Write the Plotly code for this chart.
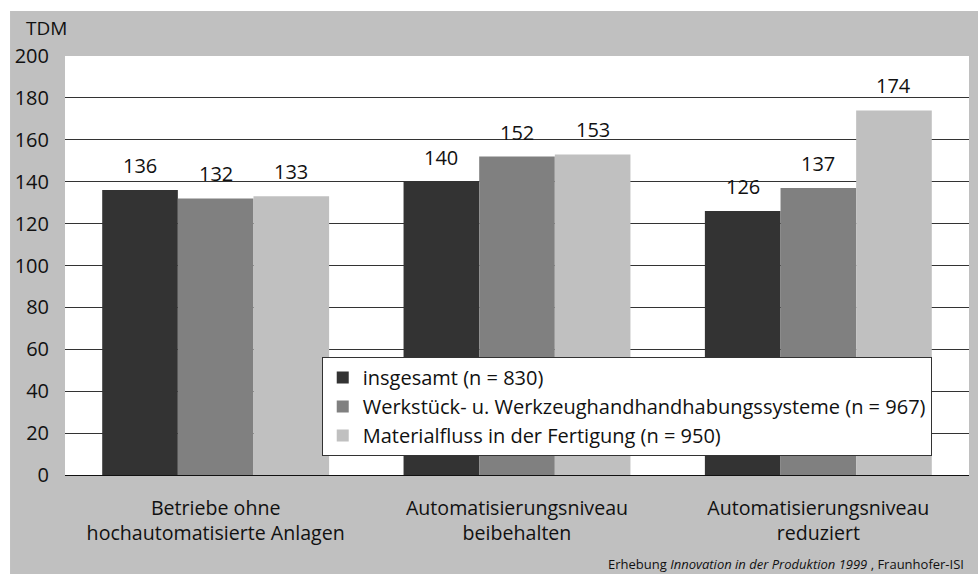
import plotly.graph_objects as go

categories = ["Betriebe ohne<br>hochautomatisierte Anlagen",
              "Automatisierungsniveau<br>beibehalten",
              "Automatisierungsniveau<br>reduziert"]
series_names = ["insgesamt (n = 830)",
                "Werkstück- u. Werkzeughandhandhabungssysteme (n = 967)",
                "Materialfluss in der Fertigung (n = 950)"]
values_insgesamt = [136, 140, 126]
values_werkstueck = [132, 152, 137]
values_material = [133, 153, 174]
y_ticks = [0, 20, 40, 60, 80, 100, 120, 140, 160, 180, 200]

colors = ["#333333", "#808080", "#c0c0c0"]
FONT = "Open Sans"
BARGAP = 0.247

fig = go.Figure()
all_vals = [values_insgesamt, values_werkstueck, values_material]
for i, (name, vals) in enumerate(zip(series_names, all_vals)):
    fig.add_trace(go.Bar(
        x=categories, y=vals, name=name, marker=dict(color=colors[i], line=dict(width=0)),
        legendgroup=f"g{i}", hoverinfo="skip",
    ))

bar_w = (1 - BARGAP) / 3
annotations = []
for i, vals in enumerate(all_vals):
    for j, v in enumerate(vals):
        annotations.append(dict(
            x=j + (i - 1) * bar_w, y=v, xref="x", yref="y", text=str(v),
            showarrow=False, yanchor="bottom", yshift=9,
            font=dict(family=FONT, size=20, color="#111111"),
        ))

annotations.append(dict(x=0, y=1, xref="paper", yref="paper", text="TDM",
                        showarrow=False, xanchor="right", yanchor="bottom",
                        xshift=4, yshift=13,
                        font=dict(family=FONT, size=19, color="#111111")))
annotations.append(dict(x=1, y=0, xref="paper", yref="paper",
                        text="Erhebung <i>Innovation in der Produktion 1999</i> , Fraunhofer-ISI",
                        showarrow=False, xanchor="right", yanchor="middle",
                        xshift=-3, yshift=-89,
                        font=dict(family=FONT, size=13, color="#111111")))

shapes = [
    dict(type="rect", xref="paper", yref="paper", x0=-0.0608, x1=1.05, y0=-0.5, y1=1.1074,
         fillcolor="#c0c0c0", line=dict(width=0), layer="below"),
    dict(type="rect", xref="paper", yref="paper", x0=0, x1=1, y0=0, y1=1,
         fillcolor="white", line=dict(width=0), layer="below"),
]

fig.update_layout(
    width=978, height=574,
    margin=dict(l=65, r=9, t=56, b=99),
    paper_bgcolor="white", plot_bgcolor="white",
    barmode="group", bargap=BARGAP, bargroupgap=0,
    font=dict(family=FONT, size=20, color="#111111"),
    showlegend=True,
    legend=dict(x=0.284, y=0.2816, xanchor="left", yanchor="top",
                bgcolor="white", bordercolor="#333333", borderwidth=1,
                font=dict(family=FONT, size=20, color="#111111"),
                tracegroupgap=2, traceorder="normal"),
    xaxis=dict(showgrid=False, showline=True, linecolor="#111111", linewidth=1,
               ticks="", ticklabelstandoff=15, tickfont=dict(family=FONT, size=19.6)),
    yaxis=dict(range=[0, 200], tickvals=y_ticks, showgrid=True, gridcolor="#333333",
               gridwidth=1, zeroline=False, showline=False, ticks="",
               ticklabelstandoff=15, tickfont=dict(family=FONT, size=20)),
    annotations=annotations, shapes=shapes,
)

fig.write_html("out.html", config={"displayModeBar": False},
               post_script="document.body.style.margin='0';")
